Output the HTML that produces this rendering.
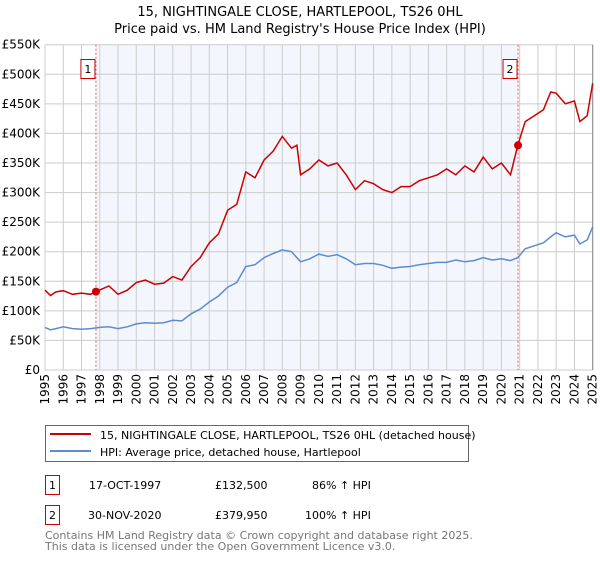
<!DOCTYPE html>
<html><head><meta charset="utf-8"><style>
body{margin:0;background:#fff;font-family:"DejaVu Sans","Liberation Sans",sans-serif;}
svg text{font-family:"DejaVu Sans","Liberation Sans",sans-serif;}
</style></head><body>
<svg id="c" width="600" height="560" xmlns="http://www.w3.org/2000/svg">
<text x="300" y="16" text-anchor="middle" font-size="13">15, NIGHTINGALE CLOSE, HARTLEPOOL, TS26 0HL</text>
<text x="300" y="33" text-anchor="middle" font-size="13">Price paid vs. HM Land Registry's House Price Index (HPI)</text>
<g id="plot"></g>
<g>
<rect x="45.5" y="425.5" width="423" height="36" fill="#fff" stroke="#666"/>
<line x1="50" y1="434" x2="91" y2="434" stroke="#cc0000" stroke-width="2"/>
<text x="100" y="439" font-size="11">15, NIGHTINGALE CLOSE, HARTLEPOOL, TS26 0HL (detached house)</text>
<line x1="50" y1="451" x2="91" y2="451" stroke="#5b8bd0" stroke-width="2"/>
<text x="100" y="456" font-size="11">HPI: Average price, detached house, Hartlepool</text>
</g>
<g>
<rect x="45.5" y="475.5" width="14" height="19" fill="#fff" stroke="#cc0000"/>
<text x="52.5" y="489" font-size="11" text-anchor="middle">1</text>
<text x="89" y="489" font-size="11">17-OCT-1997</text>
<text x="215" y="489" font-size="11">£132,500</text>
<text x="312" y="489" font-size="11">86% ↑ HPI</text>
</g>
<g>
<rect x="45.5" y="505.5" width="14" height="19" fill="#fff" stroke="#cc0000"/>
<text x="52.5" y="519" font-size="11" text-anchor="middle">2</text>
<text x="88" y="519" font-size="11">30-NOV-2020</text>
<text x="215" y="519" font-size="11">£379,950</text>
<text x="305" y="519" font-size="11">100% ↑ HPI</text>
</g>
<text x="45" y="539" font-size="11" fill="#777">Contains HM Land Registry data © Crown copyright and database right 2025.</text>
<text x="45" y="550" font-size="11" fill="#777">This data is licensed under the Open Government Licence v3.0.</text>
</svg>
<script>
const yTicks=[0,50,100,150,200,250,300,350,400,450,500,550];
const yTickLabels=["£0","£50K","£100K","£150K","£200K","£250K","£300K","£350K","£400K","£450K","£500K","£550K"];
const xYears=[1995,1996,1997,1998,1999,2000,2001,2002,2003,2004,2005,2006,2007,2008,2009,2010,2011,2012,2013,2014,2015,2016,2017,2018,2019,2020,2021,2022,2023,2024,2025];
const hpiDates=[1995,1995.3,1995.6,1996,1996.5,1997,1997.5,1998,1998.5,1999,1999.5,2000,2000.5,2001,2001.5,2002,2002.5,2003,2003.5,2004,2004.5,2005,2005.5,2006,2006.5,2007,2007.5,2008,2008.5,2009,2009.5,2010,2010.5,2011,2011.5,2012,2012.5,2013,2013.5,2014,2014.5,2015,2015.5,2016,2016.5,2017,2017.5,2018,2018.5,2019,2019.5,2020,2020.5,2020.9,2021.3,2021.8,2022.3,2022.7,2023,2023.5,2024,2024.3,2024.7,2025];
const hpiValues=[72,68,70,73,70,69,70,72,73,70,73,78,80,79,80,84,83,95,103,115,125,140,148,175,178,190,197,203,200,183,188,196,192,195,188,178,180,180,177,172,174,175,178,180,182,182,186,183,185,190,186,188,185,190,205,210,215,225,232,225,228,213,220,242];
const priceDates=[1995,1995.3,1995.6,1996,1996.5,1997,1997.5,1997.8,1998.5,1999,1999.5,2000,2000.5,2001,2001.5,2002,2002.5,2003,2003.5,2004,2004.5,2005,2005.5,2006,2006.5,2007,2007.5,2008,2008.5,2008.8,2009,2009.5,2010,2010.5,2011,2011.5,2012,2012.5,2013,2013.5,2014,2014.5,2015,2015.5,2016,2016.5,2017,2017.5,2018,2018.5,2019,2019.5,2020,2020.5,2020.9,2021.3,2021.8,2022.3,2022.7,2023,2023.5,2024,2024.3,2024.7,2025];
const priceValues=[135,126,132,134,128,130,128,132.5,142,128,135,148,152,145,147,158,152,175,190,215,230,270,280,335,325,355,370,395,375,380,330,340,355,345,350,330,305,320,315,305,300,310,310,320,325,330,340,330,345,335,360,340,350,330,380,420,430,440,470,468,450,455,420,430,485];
const sales=[[1997.79,132.5,"1"],[2020.91,379.95,"2"]];
const X0=45,X1=592.7,Y0=370,Y1=44.7;
const xs=d=>X0+(d-1995)/30*(X1-X0);
const ys=v=>Y0-v/550*(Y0-Y1);
const NS="http://www.w3.org/2000/svg";
const g=document.getElementById('plot');
function mk(t,a){const e=document.createElementNS(NS,t);for(const k in a)e.setAttribute(k,a[k]);g.appendChild(e);return e;}
let r=mk('rect',{x:xs(sales[0][0]),y:Y1,width:xs(sales[1][0])-xs(sales[0][0]),height:Y0-Y1,fill:'#eef3fc',opacity:0.7});


yTicks.forEach((v,i)=>{
 let l=mk('line',{x1:X0,x2:X1,y1:ys(v),y2:ys(v),stroke:'#ccc','stroke-width':1});
 
 
 let t=mk('text',{x:40,y:ys(v)+4,'text-anchor':'end','font-size':12});
 t.textContent=yTickLabels[i];
 
 
});
xYears.forEach(yr=>{
 let l=mk('line',{x1:xs(yr),x2:xs(yr),y1:Y1,y2:Y0,stroke:'#ccc','stroke-width':1});
 
 
 let t=mk('text',{x:0,y:0,'font-size':12,'text-anchor':'end',transform:`translate(${xs(yr)+4},${Y0+4}) rotate(-90)`});
 t.textContent=yr;
 
 
});
let bl=mk('line',{x1:X1,x2:X1,y1:Y1,y2:Y0,stroke:'#888'});


sales.forEach(s=>{
 let l=mk('line',{x1:xs(s[0]),x2:xs(s[0]),y1:Y1,y2:Y0,stroke:'#e06060','stroke-dasharray':'2,2'});
 
 
 let b=mk('rect',{x:xs(s[0])-15,y:59.5,width:14,height:19,fill:'#fff',stroke:'#cc0000'});
 
 
 let t=mk('text',{x:xs(s[0])-8,y:73,'font-size':11,'text-anchor':'middle'});
 t.textContent=s[2];
 
 
});
function path(ds,vs){return ds.map((d,i)=>(i?'L':'M')+xs(d).toFixed(1)+','+ys(vs[i]).toFixed(1)).join('');}
let hp=mk('path',{d:path(hpiDates,hpiValues),fill:'none',stroke:'#5b8bd0','stroke-width':1.5});


let pp=mk('path',{d:path(priceDates,priceValues),fill:'none',stroke:'#cc0000','stroke-width':1.5});


sales.forEach(s=>{
 let c=mk('circle',{cx:xs(s[0]),cy:ys(s[1]),r:4,fill:'#cc0000'});
 
 
});
</script>
</body></html>
